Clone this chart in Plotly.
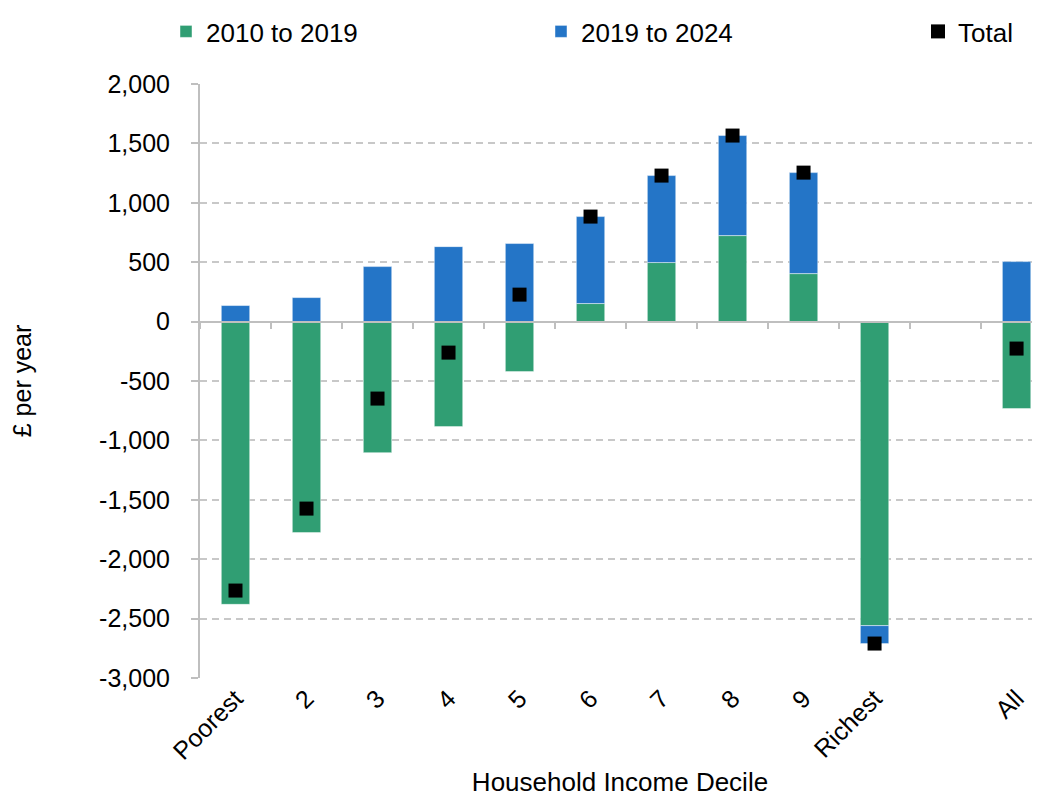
import plotly.graph_objects as go

categories = ["Poorest", "2", "3", "4", "5", "6", "7", "8", "9", "Richest", " ", "All"]
change_2010_2019 = [-2380, -1776, -1103, -884, -421, 152, 497, 724, 404, -2559, None, -732]
change_2019_2024 = [135, 202, 463, 631, 657, 732, 732, 842, 850, -151, None, 505]
total = [-2264, -1574, -648, -261, 227, 884, 1229, 1566, 1254, -2710, None, -227]
y_tickvals = [2000, 1500, 1000, 500, 0, -500, -1000, -1500, -2000, -2500, -3000]
y_ticktext = ["2,000", "1,500", "1,000", "500", "0", "-500", "-1,000", "-1,500", "-2,000", "-2,500", "-3,000"]

GREEN = "#309E73"
BLUE = "#2475C7"
GRID = "#C8C8C8"
AXIS = "#BFBFBF"
FONT = "Liberation Sans, Arial, sans-serif"

W, H = 1032, 792  # page body has an 8px margin

fig = go.Figure()
fig.add_trace(go.Bar(
    x=categories, y=change_2010_2019, name="2010 to 2019", legend="legend",
    marker=dict(color=GREEN, line=dict(color="rgba(255,255,255,0.45)", width=1)),
    width=0.4,
))
fig.add_trace(go.Bar(
    x=categories, y=change_2019_2024, name="2019 to 2024", legend="legend2",
    marker=dict(color=BLUE, line=dict(color="rgba(255,255,255,0.45)", width=1)),
    width=0.4,
))
fig.add_trace(go.Scatter(
    x=categories, y=total, name="Total", mode="markers", legend="legend3",
    marker=dict(symbol="square", color="black", size=14),
))
# invisible helper trace so the zero-line axis knows the categories
fig.add_trace(go.Scatter(
    x=categories, y=[0] * len(categories), xaxis="x2", mode="markers",
    marker=dict(opacity=0), showlegend=False, hoverinfo="skip",
))

xrange = [-0.5, 11.33]


def leg(px):
    return dict(
        orientation="h", xref="container", yref="container",
        x=(px - 8) / W, y=1.0, xanchor="left", yanchor="top",
        font=dict(size=26), itemwidth=30, bgcolor="rgba(0,0,0,0)",
    )


fig.update_layout(
    width=W, height=H,
    barmode="relative",
    plot_bgcolor="white", paper_bgcolor="white",
    font=dict(family=FONT, size=25, color="black"),
    margin=dict(l=192, r=0, t=76, b=122),
    showlegend=True,
    legend=leg(166), legend2=leg(541), legend3=leg(918),
    xaxis=dict(
        type="category", categoryorder="array", categoryarray=categories,
        range=xrange, showline=False, showgrid=False, ticks="",
        tickangle=-45, tickfont=dict(size=25),
        title=dict(text="Household Income Decile", font=dict(size=26), standoff=8),
        automargin=False,
    ),
    xaxis2=dict(
        type="category", categoryorder="array", categoryarray=categories,
        range=xrange, overlaying="x", anchor="free", position=0.6, side="bottom",
        showline=True, linecolor=AXIS, linewidth=2,
        ticks="outside", tickson="boundaries", ticklen=6, tickwidth=2, tickcolor=AXIS,
        showticklabels=False, showgrid=False, automargin=False,
    ),
    yaxis=dict(
        range=[-3000, 2000], tickvals=y_tickvals, ticktext=y_ticktext,
        showline=True, linecolor=AXIS, linewidth=2,
        ticks="outside", ticklen=7, tickwidth=2, tickcolor=AXIS,
        ticklabelstandoff=16,
        showgrid=True, gridcolor=GRID, gridwidth=2, griddash="7px,5px",
        zeroline=False, tickfont=dict(size=25),
        title=dict(text="£ per year", font=dict(size=25), standoff=60),
        automargin=False,
    ),
)

fig.write_html("out.html")
